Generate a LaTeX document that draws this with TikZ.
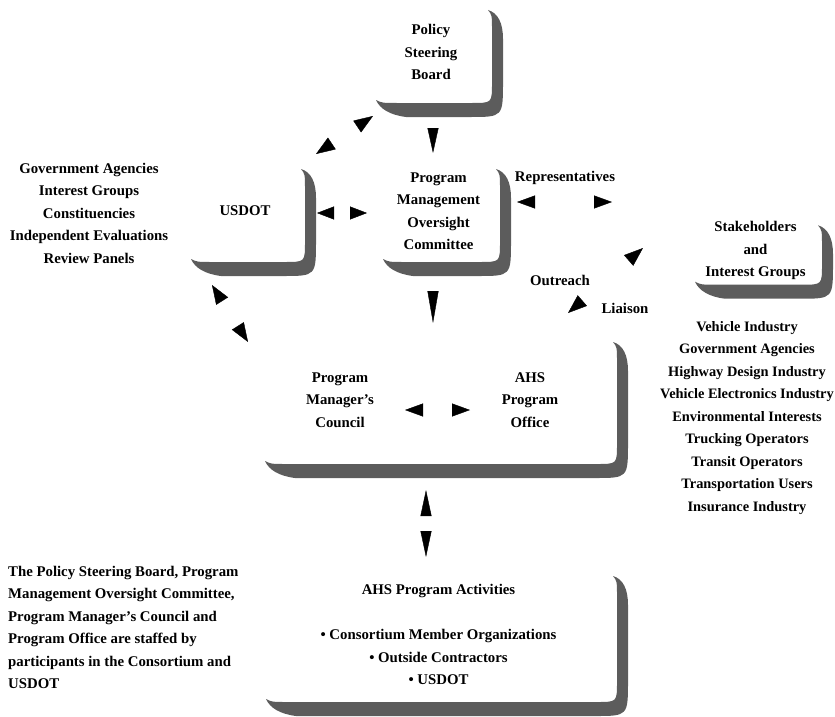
\documentclass[tikz,border=0pt]{standalone}
\usepackage{fontspec}
\setmainfont{Liberation Serif}
\usetikzlibrary{arrows.meta, decorations.markings}

% brush-like shadow along the right and bottom edge of a panel
\newcommand\boxshade[1]{%
  \fill[shadefill]
    ([shift={(0,-4)}]#1.north east)
    .. controls ([shift={(10,-7)}]#1.north east) and ([shift={(15,-17)}]#1.north east) .. ([shift={(15,-33)}]#1.north east)
    -- ([shift={(15,17)}]#1.south east)
    .. controls ([shift={(15,-19)}]#1.south east) .. ([shift={(-18,-19)}]#1.south east)
    -- ([shift={(32,-19)}]#1.south west)
    .. controls ([shift={(16,-17)}]#1.south west) and ([shift={(6,-11)}]#1.south west) .. ([shift={(2,-2)}]#1.south west)
    .. controls ([shift={(8,-5)}]#1.south west) .. ([shift={(24,-5)}]#1.south west)
    -- ([shift={(-16,-5)}]#1.south east)
    .. controls ([shift={(4,-5)}]#1.south east) .. ([shift={(4,15)}]#1.south east)
    -- ([shift={(4,-25)}]#1.north east)
    .. controls ([shift={(4,-9)}]#1.north east) .. cycle;}

\begin{document}
\begin{tikzpicture}[
    x=1pt, y=1pt,
    font=\fontsize{14.8pt}{22.5pt}\selectfont\bfseries,
    shadefill/.style={fill=black!64},
    panel/.style 2 args={minimum width=#1, minimum height=#2, inner sep=0pt,
                         outer sep=0pt, align=center},
    txt/.style={align=center, inner sep=0pt},
    both/.style 2 args={postaction={decorate}, decoration={markings,
        mark=at position 0 with {\arrowreversed{Triangle[length=#1, width=#2]}},
        mark=at position 1 with {\arrow{Triangle[length=#1, width=#2]}}}},
    one/.style 2 args={postaction={decorate}, decoration={markings,
        mark=at position 1 with {\arrow{Triangle[length=#1, width=#2]}}}}
]
\useasboundingbox (0,0) rectangle (835,-717);

% Panels
\node[panel={114pt}{92pt}] (psb) at (431,-52) {Policy\\Steering\\Board};
\node[panel={112pt}{92pt}] (usdot) at (245,-211) {USDOT};
\node[panel={115pt}{92pt}] (pmoc) at (438.5,-211) {Program\\Management\\Oversight\\Committee};
\node[panel={350pt}{121pt}] (pmo) at (438,-398.5) {};
\node[panel={349pt}{125pt}] (act) at (438.5,-634.5)
    {AHS Program Activities\\[22.5pt]
     • Consortium Member Organizations\\
     • Outside Contractors\\
     • USDOT};
\node[panel={125pt}{57pt}] (stake) at (755.5,-250.5) {Stakeholders\\and\\Interest Groups};

\boxshade{psb}
\boxshade{usdot}
\boxshade{pmoc}
\boxshade{pmo}
\boxshade{act}
\boxshade{stake}

% Texts inside the program office panel
\node[txt] (council) at (340,-400) {Program\\Manager's\\Council};
\node[txt] (office) at (530,-400) {AHS\\Program\\Office};

% Free texts
\node[txt] (gov) at (89,-213)
    {Government Agencies\\Interest Groups\\Constituencies\\Independent Evaluations\\Review Panels};
\node[txt] (reps) at (565,-178) {Representatives};
\node[txt] (outreach) at (560,-280) {Outreach};
\node[txt] (liaison) at (625,-308) {Liaison};
\node[txt, font=\fontsize{14.4pt}{22.5pt}\selectfont\bfseries] (industry) at (747,-418)
    {Vehicle Industry\\Government Agencies\\Highway Design Industry\\Vehicle Electronics Industry\\
     Environmental Interests\\Trucking Operators\\Transit Operators\\Transportation Users\\Insurance Industry};
\node[txt, align=left, anchor=west] (staff) at (8,-627.5)
    {The Policy Steering Board, Program\\Management Oversight Committee,\\Program Manager's Council and\\
     Program Office are staffed by\\participants in the Consortium and\\USDOT};

% Arrow ends
\coordinate (psb-sw) at (316,-154);   \coordinate (psb-nw) at (373,-116);
\coordinate (psb-s) at (433,-125);    \coordinate (pmoc-n) at (433,-153);
\coordinate (usdot-e) at (317,-213);  \coordinate (pmoc-w) at (367,-213);
\coordinate (pmoc-s) at (433,-290);   \coordinate (pmo-n) at (433,-323);
\coordinate (usdot-s) at (212,-285);  \coordinate (pmo-nw) at (248,-342);
\coordinate (pmoc-e) at (517,-202);   \coordinate (stake-w) at (612,-202);
\coordinate (pmo-ne) at (568,-313);   \coordinate (stake-sw) at (643,-248);
\coordinate (pmo-s) at (426,-490);    \coordinate (act-n) at (426,-557);
\coordinate (council-e) at (405,-410); \coordinate (office-w) at (470,-410);

% Arrows
\path[both={19pt}{14pt}] (psb-sw) -- (psb-nw);
\path[one={25pt}{11pt}] (psb-s) -- (pmoc-n);
\path[both={17pt}{13pt}] (usdot-e) -- (pmoc-w);
\path[one={32pt}{11pt}] (pmoc-s) -- (pmo-n);
\path[both={19pt}{14pt}] (usdot-s) -- (pmo-nw);
\path[both={18pt}{13pt}] (pmoc-e) -- (stake-w);
\path[both={19pt}{14pt}] (pmo-ne) -- (stake-sw);
\path[both={26pt}{11pt}] (pmo-s) -- (act-n);
\path[both={18pt}{13pt}] (council-e) -- (office-w);

\end{tikzpicture}
\end{document}
